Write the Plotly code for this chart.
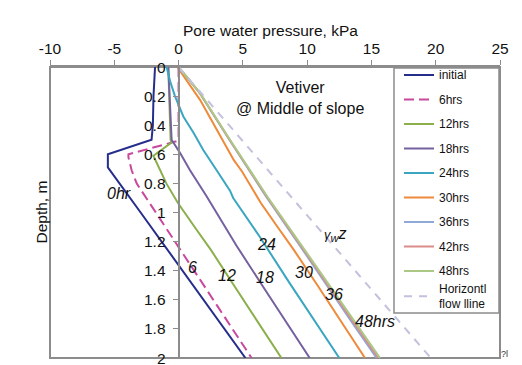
import plotly.graph_objects as go

# ---------------- data ----------------
initial_depth = [0, 0.2, 0.4, 0.5, 0.6, 0.69, 1.0, 1.5, 2.0]
initial_pwp = [-1.83, -1.95, -2.0, -2.1, -5.5, -5.5, -2.95, 1.15, 5.2]

h6_depth = [0, 0.49, 0.51, 0.6, 0.62, 0.71, 0.8, 1.0, 1.25, 1.5, 1.75, 2.0]
h6_pwp = [0, 0, -0.15, -3.9, -3.9, -3.65, -3.26, -1.78, 0.1, 1.95, 3.8, 5.68]

h12_depth = [0, 0.3, 0.5, 0.52, 0.61, 0.8, 0.935, 1.1, 1.255, 1.5, 1.75, 2.0]
h12_pwp = [-0.8, -0.72, -0.62, -0.55, -1.96, -0.95, -0.05, 1.25, 2.5, 4.3, 6.15, 8.0]

h18_depth = [0, 0.25, 0.5, 0.59, 0.71, 0.89, 1.0, 1.23, 1.5, 1.75, 2.0]
h18_pwp = [-0.8, -0.68, -0.54, 0.11, 0.89, 2.19, 2.95, 4.52, 6.5, 8.35, 10.2]

h24_depth = [0, 0.1, 0.2, 0.34, 0.45, 0.57, 0.71, 0.85, 0.9, 1.16, 1.48, 1.75, 2.0]
h24_pwp = [-0.93, -0.65, -0.28, 0.37, 1.15, 1.92, 2.96, 4.0, 4.25, 6.26, 8.6, 10.6, 12.5]

h30_depth = [0, 0.1, 0.226, 0.365, 0.5, 0.64, 0.72, 0.75, 0.935, 1.1, 1.255, 1.5, 1.75, 2.0]
h30_pwp = [-0.1, 0.7, 1.67, 2.55, 3.4, 4.3, 4.95, 5.15, 6.4, 7.7, 8.95, 10.8, 12.65, 14.5]

late_depth = [0, 0.18, 0.5, 0.71, 0.74, 0.89, 1.21, 1.5, 1.75, 2.0]
h36_pwp = [0, 1.65, 3.95, 5.5, 5.68, 6.8, 9.3, 11.5, 13.45, 15.4]
h42_pwp = [0, 1.66, 3.97, 5.53, 5.71, 6.85, 9.37, 11.6, 13.57, 15.53]
h48_pwp = [0, 1.67, 4.0, 5.56, 5.75, 6.9, 9.44, 11.7, 13.7, 15.67]

flow_depth = [0, 2.0]
flow_pwp = [0, 19.62]

x_tickvals = [-10, -5, 0, 5, 10, 15, 20, 25]
x_ticktext = ["-10", "-5", "0", "5", "10", "15", "20", "25"]
y_tickvals = [0, 0.2, 0.4, 0.6, 0.8, 1, 1.2, 1.4, 1.6, 1.8, 2]
y_ticktext = ["0", "0.2", "0.4", "0.6", "0.8", "1", "1.2", "1.4", "1.6", "1.8", "2"]

curve_labels = ["0hr", "6", "12", "18", "24", "30", "36", "48hrs"]
curve_label_x = [-4.67, 1.12, 3.74, 6.72, 6.8, 9.76, 12.09, 15.28]
curve_label_y = [0.871, 1.375, 1.43, 1.444, 1.22, 1.41, 1.564, 1.752]

# ---------------- figure ----------------
FONT = "Liberation Sans, Arial, sans-serif"
fig = go.Figure()

series = [
    ("initial", initial_pwp, initial_depth, "#262E8C", "solid", "g0"),
    ("6hrs", h6_pwp, h6_depth, "#C8489E", "10px,5px", "g1"),
    ("12hrs", h12_pwp, h12_depth, "#8BAF4B", "solid", "g2"),
    ("18hrs", h18_pwp, h18_depth, "#7560A0", "solid", "g3"),
    ("24hrs", h24_pwp, h24_depth, "#3AA6BF", "solid", "g4"),
    ("30hrs", h30_pwp, h30_depth, "#EE8A3A", "solid", "g5"),
    ("36hrs", h36_pwp, late_depth, "#8EA8D8", "solid", "g6"),
    ("42hrs", h42_pwp, late_depth, "#D98C8A", "solid", "g7"),
    ("48hrs", h48_pwp, late_depth, "#ACC886", "solid", "g8"),
    ("Horizontl<br>flow lline", flow_pwp, flow_depth, "#C3C1DC", "8px,7px", "g8"),
]
for name, xs, ys, col, dash, grp in series:
    fig.add_trace(go.Scatter(
        x=xs, y=ys, mode="lines", name=f"<span style='font-size:12px'>{name}</span>",
        legendgroup=grp, line=dict(color=col, width=2, dash=dash),
    ))

annotations = []
for t, ax, ay in zip(curve_labels, curve_label_x, curve_label_y):
    annotations.append(dict(x=ax, y=ay, xref="x", yref="y", text=f"<i>{t}</i>",
                            showarrow=False, font=dict(family=FONT, size=16, color="#111")))
# y tick labels, placed beside the y axis line (which sits at x = 0)
for v, t in zip(y_tickvals, y_ticktext):
    annotations.append(dict(x=0, y=v, xref="x", yref="y", text=t, xanchor="right",
                            yanchor="middle", xshift=-11, showarrow=False,
                            font=dict(family=FONT, size=15.5, color="#111")))
annotations.append(dict(x=12.17, y=1.152, xref="x", yref="y",
                        text="<i><span style='font-size:13px'>γ</span><sub>w</sub>z</i>",
                        showarrow=False, font=dict(family=FONT, size=16, color="#111")))
annotations.append(dict(x=9.44, y=0.216, xref="x", yref="y",
                        text="Vetiver<br>@ Middle of slope",
                        showarrow=False, font=dict(family=FONT, size=16, color="#111")))
annotations.append(dict(x=(270 - 50) / 450, y=1 + (67 - 20) / 291, xref="paper", yref="paper",
                        text="Pore water pressure, kPa", showarrow=False,
                        font=dict(family=FONT, size=15.5, color="#111")))
annotations.append(dict(x=(30 - 50) / 450, y=1 - (212 - 67) / 291, xref="paper", yref="paper",
                        text="Depth, m", textangle=-90, showarrow=False,
                        font=dict(family=FONT, size=15.5, color="#111")))
annotations.append(dict(x=(510 - 50) / 450, y=1 - (361 - 67) / 291, xref="paper", yref="paper",
                        text="?l", showarrow=False,
                        font=dict(family=FONT, size=9, color="#333")))

GRAY = "#8c8c8c"
fig.update_layout(
    width=522, height=365,
    margin=dict(l=50, r=22, t=67, b=7, autoexpand=False),
    paper_bgcolor="white", plot_bgcolor="white",
    font=dict(family=FONT, size=15.5, color="#111"),
    showlegend=True,
    legend=dict(x=(399 - 50) / 450, y=1 - (60.5 - 67) / 291,
                xanchor="left", yanchor="top", maxheight=1,
                bgcolor="rgba(0,0,0,0)", borderwidth=0,
                font=dict(family=FONT, size=11, color="#111"),
                tracegroupgap=5.5, itemwidth=30),
    xaxis=dict(range=[-10, 25], side="top", tickvals=x_tickvals, ticktext=x_ticktext,
               showgrid=False, zeroline=False, showline=True, linecolor=GRAY,
               linewidth=2, ticks="outside", ticklen=5, tickcolor=GRAY,
               tickfont=dict(family=FONT, size=15.5, color="#111")),
    yaxis=dict(range=[2, 0], anchor="free", position=10 / 35,
               tickvals=y_tickvals, showticklabels=False,
               showgrid=False, zeroline=False, showline=True, linecolor=GRAY,
               linewidth=1.5, ticks="outside", ticklen=5, tickcolor=GRAY,
               layer="above traces"),
    annotations=annotations,
    shapes=[
        dict(type="rect", xref="paper", yref="paper", x0=0, x1=1, y0=0, y1=1,
             line=dict(color=GRAY, width=2), layer="below"),
        dict(type="rect", xref="paper", yref="paper",
             x0=(394 - 50) / 450, x1=(499 - 50) / 450,
             y0=1 - (313 - 67) / 291, y1=1 - (68 - 67) / 291,
             line=dict(color=GRAY, width=1.5), fillcolor="white", layer="above"),
    ],
)

fig.write_html("out.html")
